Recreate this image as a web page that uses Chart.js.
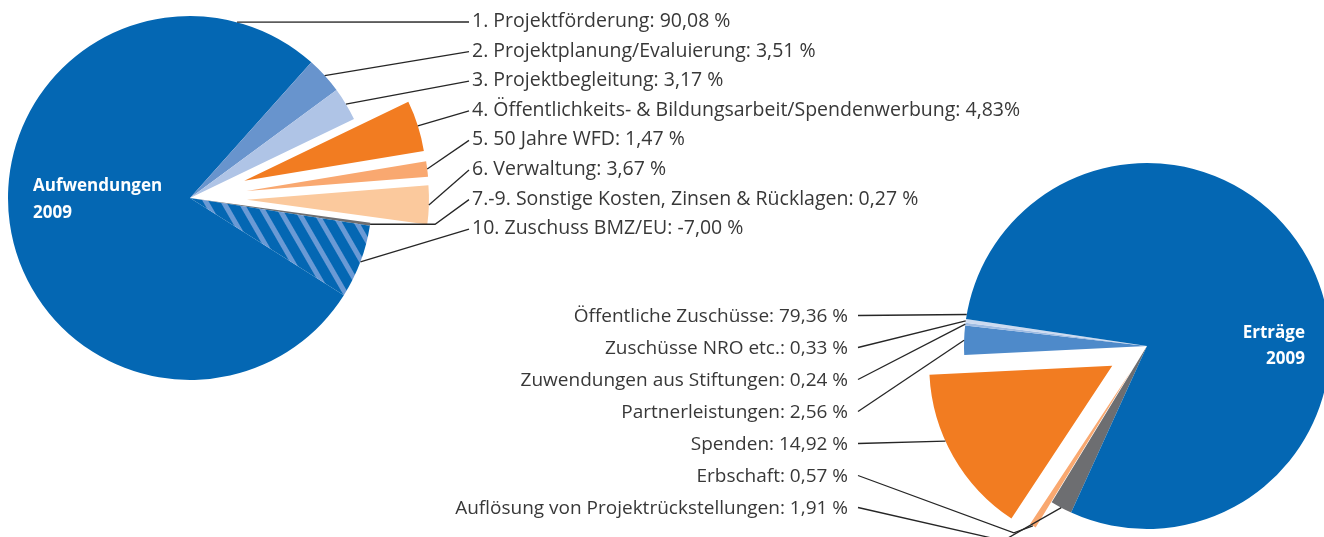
<!DOCTYPE html>
<html><head><meta charset="utf-8">
<script src="https://cdn.jsdelivr.net/npm/chart.js@4.4.1/dist/chart.umd.min.js"></script>
<style>
html,body{margin:0;padding:0;background:#fff;overflow:hidden;width:1324px;height:537px}
canvas{position:absolute;left:0;top:0}
</style></head><body>
<canvas id="c1" width="1324" height="537"></canvas>
<canvas id="c2" width="1324" height="537"></canvas>
<script>
// ---------- DATA ----------
const aufwLabels = ['1. Projektförderung', '2. Projektplanung/Evaluierung', '3. Projektbegleitung',
  '4. Öffentlichkeits- & Bildungsarbeit/Spendenwerbung', '5. 50 Jahre WFD', '6. Verwaltung',
  '7.-9. Sonstige Kosten, Zinsen & Rücklagen', '10. Zuschuss BMZ/EU'];
const aufwValues = [90.08, 3.51, 3.17, 4.83, 1.47, 3.67, 0.27, -7.00];
const aufwValueText = ['90,08 %', '3,51 %', '3,17 %', '4,83%', '1,47 %', '3,67 %', '0,27 %', '-7,00 %'];

const ertrLabels = ['Öffentliche Zuschüsse', 'Zuschüsse NRO etc.', 'Zuwendungen aus Stiftungen',
  'Partnerleistungen', 'Spenden', 'Erbschaft', 'Auflösung von Projektrückstellungen'];
const ertrValues = [79.36, 0.33, 0.24, 2.56, 14.92, 0.57, 1.91];
const ertrValueText = ['79,36 %', '0,33 %', '0,24 %', '2,56 %', '14,92 %', '0,57 %', '1,91 %'];

const aufwTitle = ['Aufwendungen', '2009'];
const ertrTitle = ['Erträge', '2009'];

// ---------- STYLE ----------
const FONT = '"Open Sans", "Noto Sans", sans-serif';
const BLUE = '#0467B3';

function makeHatch(ctx) {
  const t = document.createElement('canvas');
  t.width = 15; t.height = 15;
  const c = t.getContext('2d');
  c.fillStyle = BLUE; c.fillRect(0, 0, 15, 15);
  c.fillStyle = '#6A9AD5'; c.fillRect(0, 0, 5, 15);
  const p = ctx.createPattern(t, 'repeat');
  p.setTransform(new DOMMatrix().rotateSelf(-30));
  return p;
}

// plugin: exploded slices, leader lines, labels, centre titles
const leaderPlugin = {
  id: 'leaders',
  beforeDatasetDraw(chart, args, o) {
    const ctx = chart.ctx;
    args.meta.data.forEach((arc, i) => {
      const e = o.explode[i] || 0;
      const mid = (arc.startAngle + arc.endAngle) / 2;
      ctx.save();
      ctx.translate(Math.cos(mid) * e, Math.sin(mid) * e);
      arc.draw(ctx, chart.chartArea);
      ctx.restore();
    });
    return false;
  },
  afterDatasetsDraw(chart, args, o) {
    const ctx = chart.ctx;
    const arcs = chart.getDatasetMeta(0).data;
    ctx.save();
    ctx.strokeStyle = '#262626';
    ctx.lineWidth = 1.3;
    arcs.forEach((arc, i) => {
      const li = o.labelIdx[i];
      const e = o.explode[i] || 0;
      const mid = (arc.startAngle + arc.endAngle) / 2;
      const f = o.anchorFrac[i] != null ? o.anchorFrac[i] : 0.5;
      const a = arc.startAngle + f * (arc.endAngle - arc.startAngle);
      const ax = arc.x + Math.cos(mid) * e + Math.cos(a) * arc.outerRadius;
      const ay = arc.y + Math.sin(mid) * e + Math.sin(a) * arc.outerRadius;
      const ty = o.textY0 + li * o.step;
      ctx.beginPath();
      ctx.moveTo(ax, ay);
      const el = o.elbows[li];
      if (el) ctx.lineTo(ax + el[0], ay + el[1]);
      ctx.lineTo(o.lineX, ty + o.lineDy);
      ctx.stroke();
    });
    ctx.fillStyle = '#383838';
    ctx.font = o.fontSize + 'px ' + FONT;
    ctx.textAlign = o.align;
    ctx.textBaseline = 'middle';
    o.texts.forEach((t, li) => ctx.fillText(t, o.textX, o.textY0 + li * o.step));
    ctx.fillStyle = '#ffffff';
    ctx.font = 'bold ' + o.titleSize + 'px ' + FONT;
    ctx.textAlign = o.titleAlign;
    o.title.forEach((t, k) => ctx.fillText(t, o.titleX, o.titleY0 + k * o.titleStep));
    ctx.restore();
  }
};

// ---------- LEFT: Aufwendungen ----------
const ctx1 = document.getElementById('c1').getContext('2d');
const zuschuss = -aufwValues[7];
const aufwData = [aufwValues[0] - zuschuss].concat(aufwValues.slice(1, 7), [zuschuss]);
const aufwColors = [BLUE, '#6894CD', '#AFC4E6', '#F27C21', '#F9A870', '#FBC99D', '#6D6E71', makeHatch(ctx1)];

new Chart(ctx1, {
  type: 'pie',
  data: { labels: aufwLabels, datasets: [{ data: aufwData, backgroundColor: aufwColors, borderWidth: 0 }] },
  options: {
    responsive: false, animation: false, events: [],
    radius: 182, rotation: 122.3,
    layout: { padding: { left: 0, top: 0, right: 944, bottom: 141 } },
    plugins: {
      legend: { display: false }, tooltip: { enabled: false },
      leaders: {
        labelIdx: [0, 1, 2, 3, 4, 5, 6, 7],
        explode: [0, 0, 0, 57, 57, 57, 0, 0],
        anchorFrac: [0.904],
        elbows: { 6: [65, 0] },
        texts: aufwLabels.map((l, i) => l + ': ' + aufwValueText[i]),
        textX: 472, textY0: 21.5, step: 29.6, align: 'left', lineX: 469, lineDy: 0.5, fontSize: 19.5,
        title: aufwTitle, titleX: 33, titleY0: 186, titleStep: 27, titleAlign: 'left', titleSize: 17
      }
    }
  },
  plugins: [leaderPlugin]
});

// ---------- RIGHT: Erträge ----------
const ctx2 = document.getElementById('c2').getContext('2d');
const ertrColors = [BLUE, '#CCDAF0', '#9FBCE3', '#4E8ACA', '#F27C21', '#F9A870', '#6D6E71'];
const ertrExplode = [0, 0, 0, 0, 40, 30, 0];
const order = ertrValues.map((v, i) => i).reverse();

new Chart(ctx2, {
  type: 'pie',
  data: {
    labels: order.map(i => ertrLabels[i]),
    datasets: [{ data: order.map(i => ertrValues[i]), backgroundColor: order.map(i => ertrColors[i]), borderWidth: 0 }]
  },
  options: {
    responsive: false, animation: false, events: [],
    radius: 183, rotation: 204.5,
    layout: { padding: { left: 970, top: 155, right: 0, bottom: 0 } },
    plugins: {
      legend: { display: false }, tooltip: { enabled: false },
      leaders: {
        labelIdx: order,
        explode: order.map(i => ertrExplode[i]),
        anchorFrac: [null, null, 0.6, null, null, null, 0.005],
        elbows: { 5: [-19, 7], 6: [-58, 33] },
        texts: ertrLabels.map((l, i) => l + ': ' + ertrValueText[i]),
        textX: 848, textY0: 317, step: 32, align: 'right', lineX: 858, lineDy: -1.5, fontSize: 19,
        title: ertrTitle, titleX: 1305, titleY0: 333, titleStep: 26, titleAlign: 'right', titleSize: 17
      }
    }
  },
  plugins: [leaderPlugin]
});
</script>
</body></html>
